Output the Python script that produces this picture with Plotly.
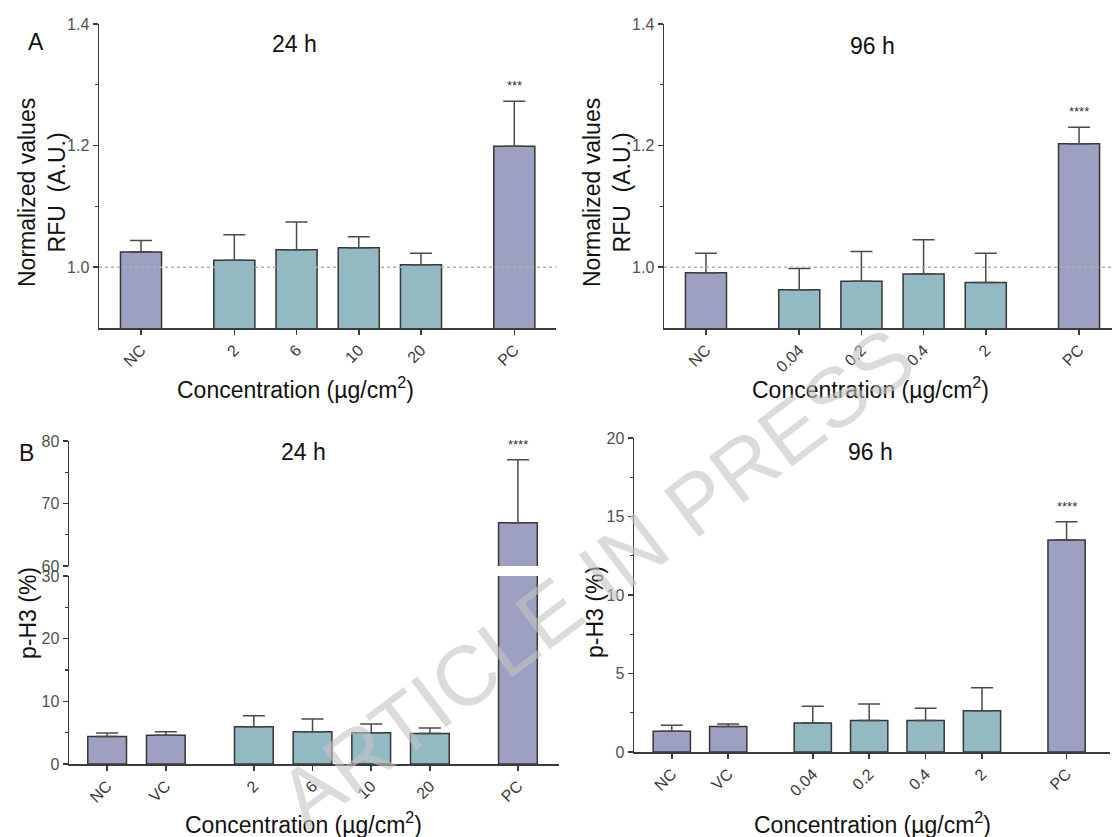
import plotly.graph_objects as go

W, H = 1113, 837

# ---------------- data ----------------
# Panel A, 24 h (normalized RFU)
a24_cats = ["NC", "2", "6", "10", "20", "PC"]
a24_groups = ["neg", "trt", "trt", "trt", "trt", "pos"]
a24_mean = [1.025, 1.0115, 1.0285, 1.032, 1.004, 1.199]
a24_sem = [0.019, 0.042, 0.046, 0.018, 0.019, 0.074]
a24_sig = ["", "", "", "", "", "***"]

# Panel A, 96 h
a96_cats = ["NC", "0.04", "0.2", "0.4", "2", "PC"]
a96_groups = ["neg", "trt", "trt", "trt", "trt", "pos"]
a96_mean = [0.991, 0.963, 0.977, 0.989, 0.975, 1.203]
a96_sem = [0.032, 0.035, 0.049, 0.056, 0.048, 0.027]
a96_sig = ["", "", "", "", "", "****"]

# Panel B, 24 h (p-H3 %)
b24_cats = ["NC", "VC", "2", "6", "10", "20", "PC"]
b24_groups = ["neg", "neg", "trt", "trt", "trt", "trt", "pos"]
b24_mean = [4.4, 4.6, 5.95, 5.15, 5.0, 4.85, 66.9]
b24_sem = [0.55, 0.55, 1.75, 2.05, 1.4, 0.9, 10.1]
b24_sig = ["", "", "", "", "", "", "****"]

# Panel B, 96 h
b96_cats = ["NC", "VC", "0.04", "0.2", "0.4", "2", "PC"]
b96_groups = ["neg", "neg", "trt", "trt", "trt", "trt", "pos"]
b96_mean = [1.32, 1.62, 1.85, 2.0, 2.0, 2.62, 13.5]
b96_sem = [0.38, 0.17, 1.06, 1.06, 0.79, 1.47, 1.17]
b96_sig = ["", "", "", "", "", "", "****"]

REF_VALUE = 1.0

# ---------------- styles ----------------
PURPLE = "#9ea0c2"
TEAL = "#93b9c3"
OUTLINE = "#363636"
ERRC = "#4a4a4a"
AXC = "#3a3a3a"
TICKFONT = dict(family="Liberation Sans, Arial", size=16, color="#505050")
XTICKFONT = dict(family="Liberation Sans, Arial", size=16, color="#383838")
BIGFONT = dict(family="Liberation Sans, Arial", size=23, color="#111111")


def px(x):
    return x / W


def py(y):
    return 1 - y / H


def positions(groups):
    pos = [0.0]
    for i in range(1, len(groups)):
        step = 1.0 if groups[i] == groups[i - 1] else 1.5
        pos.append(pos[-1] + step)
    return pos


fig = go.Figure()


def add_bars(xa, ya, groups, mean, sem):
    x = positions(groups)
    colors = [TEAL if g == "trt" else PURPLE for g in groups]
    fig.add_trace(go.Bar(
        x=x, y=mean, width=0.66, xaxis=xa, yaxis=ya,
        marker=dict(color=colors, line=dict(color=OUTLINE, width=1.5)),
        error_y=dict(type="data", symmetric=False, array=sem,
                     arrayminus=[0] * len(sem), color=ERRC,
                     thickness=1.5, width=11),
        showlegend=False, hoverinfo="skip"))
    return x


def add_sig(xref, yref, x, mean, sem, sig):
    for xi, m, s, t in zip(x, mean, sem, sig):
        if t:
            fig.add_annotation(x=xi, y=m + s, xref=xref, yref=yref,
                               text=t, showarrow=False, yanchor="bottom",
                               yshift=6, font=dict(family="Liberation Sans, Arial",
                                                   size=13, color="#333"))


def xaxis_cfg(dom, rng, x, cats, anchor):
    return dict(domain=dom, range=rng, tickvals=x, ticktext=cats,
                tickangle=-45, ticks="outside", ticklen=5, tickwidth=1.5,
                tickcolor=AXC, showline=True, linecolor=AXC, linewidth=1.5,
                showgrid=False, zeroline=False, tickfont=XTICKFONT,
                anchor=anchor, automargin=False, fixedrange=True)


def yaxis_cfg(dom, rng, tickvals, minor_vals, fmt, anchor):
    return dict(domain=dom, range=rng, tickvals=tickvals, tickformat=fmt,
                ticks="outside", ticklen=5, tickwidth=1.5, tickcolor=AXC,
                showline=True, linecolor=AXC, linewidth=1.5, showgrid=False,
                zeroline=False, tickfont=TICKFONT, anchor=anchor,
                automargin=False, fixedrange=True,
                minor=dict(tickvals=minor_vals, ticks="outside", ticklen=3,
                           tickwidth=1.2, tickcolor=AXC, showgrid=False))


# ---- Panel A 24 h ----
xA24 = add_bars("x", "y", a24_groups, a24_mean, a24_sem)
add_sig("x", "y", xA24, a24_mean, a24_sem, a24_sig)
# ---- Panel A 96 h ----
xA96 = add_bars("x2", "y2", a96_groups, a96_mean, a96_sem)
add_sig("x2", "y2", xA96, a96_mean, a96_sem, a96_sig)
# ---- Panel B 24 h (broken axis: lower + upper) ----
xB24 = add_bars("x3", "y3", b24_groups, b24_mean, b24_sem)
add_bars("x4", "y4", b24_groups, b24_mean, b24_sem)
add_sig("x4", "y4", xB24, b24_mean, b24_sem, b24_sig)
# ---- Panel B 96 h ----
xB96 = add_bars("x5", "y5", b96_groups, b96_mean, b96_sem)
add_sig("x5", "y5", xB96, b96_mean, b96_sem, b96_sig)

topA = [py(328), py(24)]
fig.update_layout(
    width=W, height=H, margin=dict(l=0, r=0, t=0, b=0, autoexpand=False),
    paper_bgcolor="white", plot_bgcolor="rgba(0,0,0,0)",
    bargap=0,
    xaxis=xaxis_cfg([px(99), px(556)], [-0.675, 6.67], xA24, a24_cats, "y"),
    yaxis=yaxis_cfg(topA, [0.9, 1.4], [1.0, 1.2, 1.4], [1.1, 1.3], ".1f", "x"),
    xaxis2=xaxis_cfg([px(664), px(1112)], [-0.675, 6.53], xA96, a96_cats, "y2"),
    yaxis2=yaxis_cfg(topA, [0.9, 1.4], [1.0, 1.2, 1.4], [1.1, 1.3], ".1f", "x2"),
    xaxis3=xaxis_cfg([px(69), px(559)], [-0.65, 7.7], xB24, b24_cats, "y3"),
    yaxis3=yaxis_cfg([py(764), py(576)], [0, 30], [0, 10, 20, 30], [5, 15, 25], "d", "x3"),
    xaxis4=dict(domain=[px(69), px(559)], range=[-0.65, 7.7], matches="x3",
                anchor="y4", visible=False, showgrid=False, zeroline=False,
                automargin=False),
    yaxis4=yaxis_cfg([py(566), py(441)], [60, 80], [60, 70, 80], [65, 75], "d", "x4"),
    xaxis5=xaxis_cfg([px(634), px(1110)], [-0.67, 7.77], xB96, b96_cats, "y5"),
    yaxis5=yaxis_cfg([py(752), py(438)], [0, 20], [0, 5, 10, 15, 20], [2.5, 7.5, 12.5, 17.5], "d", "x5"),
)

# reference dotted lines at 1.0
for xr, yr in (("x", "y"), ("x2", "y2")):
    fig.add_shape(type="line", xref=xr + " domain", yref=yr, x0=0, x1=1,
                  y0=REF_VALUE, y1=REF_VALUE, layer="above",
                  line=dict(color="#b0b0b0", width=1.5, dash="dot"))


def text(x, y, t, font=BIGFONT, angle=0):
    fig.add_annotation(x=px(x), y=py(y), xref="paper", yref="paper", text=t,
                       showarrow=False, xanchor="center", yanchor="middle",
                       font=font, textangle=angle)


# panel letters and titles
text(36, 42, "A")
text(26, 453, "B")
text(294, 44, "24 h")
text(872, 46, "96 h")
text(303, 452, "24 h")
text(870, 452, "96 h")

# y-axis titles
text(42, 193, "Normalized values<br>RFU\u00a0 (A.U.)", angle=-90)
text(607, 193, "Normalized values<br>RFU\u00a0 (A.U.)", angle=-90)
text(28, 613, "p-H3 (%)", angle=-90)
text(595, 612, "p-H3 (%)", angle=-90)

# x-axis titles
xt = "Concentration (µg/cm<sup>2</sup>)"
text(295, 388, xt)
text(870, 388, xt)
text(303, 823, xt)
text(872, 823, xt)

# watermark
fig.add_annotation(x=px(596), y=py(578), xref="paper", yref="paper",
                   text="ARTICLE IN PRESS", showarrow=False, textangle=-37,
                   xanchor="center", yanchor="middle",
                   font=dict(family="Liberation Sans, Arial", size=84,
                             color="rgba(195,195,195,0.6)"))

fig.write_html("out.html",
               config={"displayModeBar": False, "staticPlot": True},
               post_script="document.body.style.margin='0';"
                           "document.body.style.overflow='hidden';")
